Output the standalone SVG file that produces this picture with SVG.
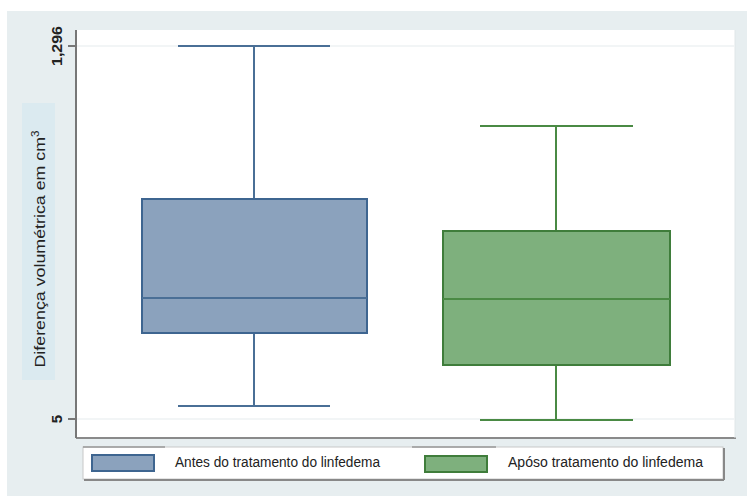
<svg xmlns="http://www.w3.org/2000/svg" width="747" height="496" viewBox="0 0 747 496">
<style>
text{font-family:"Liberation Sans",Arial,sans-serif;fill:#222}
.grid{stroke:#eef2f3;stroke-width:1.5}
.blue{fill:#8ba2bd;stroke:#3e6590;stroke-width:2}
.bl{stroke:#4a6f96;stroke-width:2;fill:none}
.green{fill:#7eb07d;stroke:#3f7d3b;stroke-width:2}
.gl{stroke:#4a8a44;stroke-width:2;fill:none}
.axis{stroke:#777;stroke-width:2}
</style>
<rect x="0" y="0" width="747" height="496" fill="#ffffff"/>
<rect x="7" y="11" width="740" height="485" fill="#e7eef0"/>
<g id="plot-area">
<rect x="76" y="30" width="659" height="407" fill="#ffffff"/>
<line x1="76" y1="438" x2="736" y2="438" stroke="#8a8a8a" stroke-width="2"/>
<line x1="735" y1="30" x2="735" y2="438" stroke="#e0e6e8" stroke-width="1"/>
<line class="grid" x1="77" y1="46" x2="734" y2="46"/>
<line class="grid" x1="77" y1="419" x2="734" y2="419"/>
<line class="axis" x1="76" y1="30" x2="76" y2="438"/>
<line class="axis" x1="68" y1="46" x2="76" y2="46"/>
<line class="axis" x1="68" y1="419" x2="76" y2="419"/>
<text transform="translate(62,46) rotate(-90)" text-anchor="middle" font-size="15" font-weight="bold" fill="#333" textLength="40" lengthAdjust="spacingAndGlyphs">1,296</text>
<text transform="translate(62,419) rotate(-90)" text-anchor="middle" font-size="15" font-weight="bold" fill="#333">5</text>
</g>
<g id="y-axis-title">
<rect x="22" y="103" width="33" height="277" fill="#dbeaf0"/>
<text transform="translate(45,249) rotate(-90)" text-anchor="middle" font-size="15.5" fill="#333" textLength="237" lengthAdjust="spacingAndGlyphs">Diferença volumétrica em cm<tspan font-size="10" dy="-6">3</tspan></text>
</g>
<g id="connectors">
<line class="bl" x1="254" y1="46" x2="254" y2="199"/>
<line class="bl" x1="178" y1="46" x2="330" y2="46"/>
<line class="bl" x1="254" y1="333" x2="254" y2="406"/>
<line class="bl" x1="178" y1="406" x2="330" y2="406"/>
<line class="gl" x1="556" y1="126" x2="556" y2="231"/>
<line class="gl" x1="480" y1="126" x2="633" y2="126"/>
<line class="gl" x1="556" y1="365" x2="556" y2="420"/>
<line class="gl" x1="480" y1="420" x2="633" y2="420"/>
</g>
<g id="box-antes">
<rect class="blue" x="142" y="199" width="225" height="134"/>
<line class="bl" x1="142" y1="298" x2="367" y2="298" stroke="#3e6590"/>
</g>
<g id="box-apos">
<rect class="green" x="443" y="231" width="227" height="134"/>
<line class="gl" x1="443" y1="299" x2="670" y2="299" stroke="#3f7d3b"/>
</g>
<g id="legend">
<rect x="83" y="447" width="640" height="32" fill="#ffffff" stroke="#c8c8c8" stroke-width="1"/>
<line x1="84" y1="480" x2="724" y2="480" stroke="#888" stroke-width="2"/>
<line x1="724" y1="448" x2="724" y2="480" stroke="#888" stroke-width="2"/>
<line x1="83" y1="447" x2="165" y2="447" stroke="#999" stroke-width="1.5"/>
<line x1="412" y1="447" x2="496" y2="447" stroke="#999" stroke-width="1.5"/>
<rect class="blue" x="92" y="455" width="62" height="16"/>
<text x="175" y="467" font-size="14" textLength="205" lengthAdjust="spacingAndGlyphs">Antes do tratamento do linfedema</text>
<rect class="green" x="425" y="456" width="62" height="16"/>
<text x="508" y="467" font-size="14" textLength="195" lengthAdjust="spacingAndGlyphs">Apóso tratamento do linfedema</text>
</g>
</svg>
